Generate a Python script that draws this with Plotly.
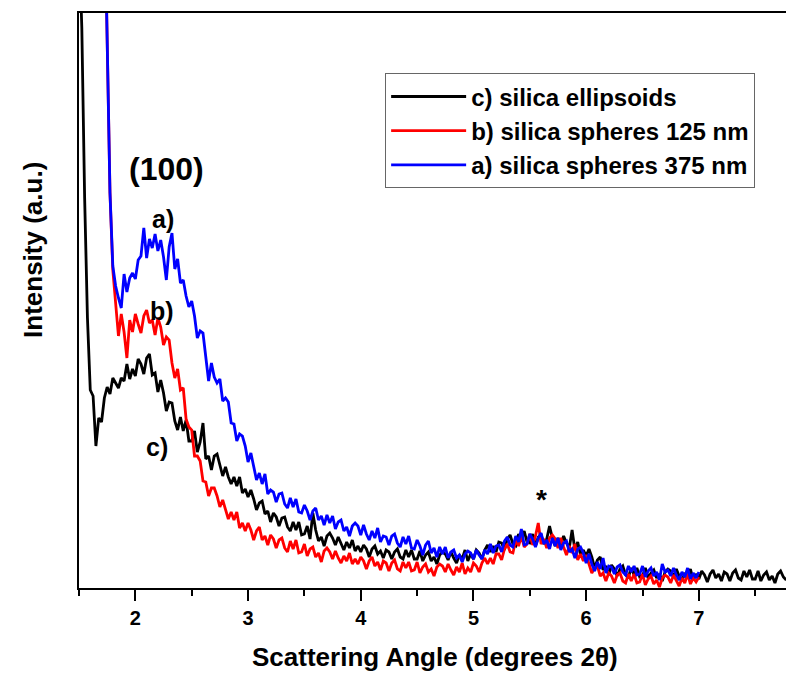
import plotly.graph_objects as go
import numpy as np

# ---------------- data (intensity in arbitrary units) ----------------
x_start_black = 1.5
x_start_ab = 1.725
x_step = 0.025

black_c = [
    650, 560, 390, 270, 198, 192, 142, 170, 166, 190,
    201, 194, 210, 205, 200, 210, 207, 224, 209, 219,
    212, 229, 224, 214, 230, 234, 213, 215, 196, 208,
    195, 177, 186, 185, 167, 158, 171, 157, 168, 147,
    147, 157, 136, 146, 165, 129, 132, 118, 132, 134,
    123, 112, 121, 111, 104, 111, 102, 111, 95, 99,
    91, 98, 89, 78, 85, 87, 74, 77, 66, 75,
    71, 62, 70, 71, 61, 57, 66, 58, 66, 53,
    54, 62, 49, 75, 58, 47, 51, 42, 52, 55,
    50, 43, 51, 44, 38, 46, 40, 48, 37, 42,
    36, 43, 39, 31, 39, 42, 34, 37, 30, 38,
    36, 29, 36, 39, 31, 29, 38, 31, 38, 29,
    29, 37, 27, 33, 36, 27, 31, 24, 33, 36,
    34, 28, 36, 30, 25, 33, 29, 38, 27, 34,
    29, 38, 35, 29, 38, 43, 36, 42, 36, 46,
    45, 38, 49, 53, 44, 42, 54, 48, 57, 46,
    45, 54, 42, 51, 53, 44, 49, 62, 50, 42,
    50, 43, 52, 45, 40, 58, 38, 46, 33, 38,
    32, 39, 31, 20, 28, 31, 18, 22, 13, 23,
    19, 12, 19, 22, 13, 11, 20, 13, 20, 11,
    12, 20, 10, 15, 18, 10, 14, 7, 16, 19,
    17, 11, 19, 12, 7, 15, 10, 19, 8, 14,
    9, 17, 13, 6, 14, 18, 10, 14, 7, 16,
    14, 7, 15, 18, 10, 8, 17, 11, 18, 9,
    9, 17, 7, 13, 16, 8, 12, 5, 14, 17,
    11, 8,
]

red_b = [
    700, 530, 395, 318, 285, 252, 274, 256, 230, 268,
    256, 274, 264, 255, 272, 278, 265, 268, 253, 270,
    261, 243, 251, 248, 225, 210, 219, 198, 200, 169,
    161, 158, 132, 132, 127, 107, 106, 92, 100, 100,
    92, 81, 88, 77, 69, 76, 68, 76, 60, 65,
    57, 65, 58, 48, 57, 61, 48, 52, 43, 53,
    49, 40, 48, 50, 40, 36, 47, 39, 48, 35,
    36, 44, 32, 39, 41, 31, 35, 26, 37, 40,
    36, 29, 37, 30, 25, 32, 27, 35, 24, 29,
    24, 31, 27, 19, 27, 31, 22, 26, 18, 27,
    25, 17, 25, 28, 19, 17, 26, 20, 26, 17,
    18, 26, 15, 21, 24, 16, 19, 12, 21, 24,
    22, 16, 24, 18, 13, 21, 16, 25, 14, 20,
    16, 25, 22, 16, 25, 30, 24, 30, 24, 34,
    34, 28, 39, 44, 36, 35, 48, 42, 52, 41,
    44, 54, 43, 52, 65, 44, 49, 40, 50, 53,
    49, 40, 50, 41, 33, 42, 35, 44, 28, 34,
    27, 33, 25, 15, 20, 22, 12, 15, 7, 15,
    12, 5, 13, 15, 7, 5, 14, 7, 14, 5,
    6, 14, 3, 9, 12, 4, 8, 1, 10, 13,
    11, 5, 13, 7, 2, 10, 5, 14, 4, 10,
    6, 11,
]

blue_a = [
    700, 530, 395, 322, 302, 290, 280, 314, 296, 310,
    315, 309, 328, 332, 360, 330, 349, 340, 354, 337,
    348, 331, 308, 341, 355, 319, 329, 305, 308, 292,
    281, 287, 272, 250, 257, 255, 231, 207, 225, 211,
    205, 209, 187, 190, 186, 165, 164, 147, 154, 152,
    142, 126, 135, 120, 108, 115, 104, 114, 94, 98,
    96, 86, 94, 95, 84, 80, 90, 81, 89, 76,
    75, 83, 77, 68, 77, 80, 68, 72, 63, 73,
    65, 72, 59, 66, 68, 57, 61, 52, 62, 65,
    62, 53, 63, 54, 48, 57, 50, 60, 46, 52,
    51, 43, 52, 54, 45, 41, 51, 44, 52, 40,
    39, 48, 42, 33, 43, 47, 35, 40, 31, 41,
    34, 41, 30, 36, 38, 30, 33, 26, 34, 37,
    35, 29, 38, 33, 29, 38, 34, 44, 35, 42,
    43, 36, 47, 51, 43, 41, 52, 46, 59, 43,
    44, 54, 49, 41, 50, 55, 44, 48, 39, 50,
    42, 50, 38, 45, 47, 36, 39, 30, 39, 41,
    35, 25, 34, 24, 17, 26, 19, 30, 15, 22,
    21, 14, 21, 23, 16, 13, 22, 16, 22, 13,
    14, 22, 11, 17, 20, 12, 16, 8, 24, 16,
    18, 12, 20, 13, 8, 16, 11, 20, 9, 15,
    10, 16,
]

x_black = np.round(x_start_black + x_step * np.arange(len(black_c)), 3)
x_ab = np.round(x_start_ab + x_step * np.arange(len(blue_a)), 3)

series_names = ["c) silica ellipsoids", "b) silica spheres 125 nm", "a) silica spheres 375 nm"]
series_colors = ["#000000", "#FF0000", "#0000FF"]

x_ticks = [2, 3, 4, 5, 6, 7]
x_range = [1.5, 7.773]
y_range = [0, 575]

labels = ["(100)", "a)", "b)", "c)", "*"]
label_x = [2.28, 2.245, 2.236, 2.19, 5.608]
label_y = [419, 369, 277, 141, 89]
label_size = [32, 25, 25, 25, 28]

FONT = "Arial, 'Liberation Sans', Helvetica, sans-serif"

fig = go.Figure()
for xs, ys, name, col in [
    (x_black, black_c, series_names[0], series_colors[0]),
    (x_ab, red_b, series_names[1], series_colors[1]),
    (x_ab, blue_a, series_names[2], series_colors[2]),
]:
    fig.add_trace(go.Scatter(x=xs, y=ys, mode="lines", name=name,
                             line=dict(color=col, width=2.8)))

for t, lx, ly, sz in zip(labels, label_x, label_y, label_size):
    fig.add_annotation(x=lx, y=ly, xref="x", yref="y", text=t, showarrow=False,
                       font=dict(family=FONT, size=sz, color="black", weight="bold"))

fig.add_annotation(x=-0.065, y=0.588, xref="paper", yref="paper",
                   xanchor="center", yanchor="middle",
                   text="Intensity (a.u.)", textangle=-90, showarrow=False,
                   font=dict(family=FONT, size=26, color="black", weight="bold"))
fig.add_annotation(x=0.5035, y=-0.12, xref="paper", yref="paper",
                   xanchor="center", yanchor="middle",
                   text="Scattering Angle (degrees 2θ)", showarrow=False,
                   font=dict(family=FONT, size=26, color="black", weight="bold"))

fig.update_layout(
    width=786, height=675,
    margin=dict(l=79, r=0, t=13, b=87, pad=0),
    paper_bgcolor="white", plot_bgcolor="white",
    font=dict(family=FONT, color="black", weight="bold"),
    showlegend=True,
    legend=dict(x=0.433, y=0.895, xanchor="left", yanchor="top",
                bgcolor="white", bordercolor="#666666", borderwidth=1,
                font=dict(family=FONT, size=24, color="black", weight="bold"),
                itemwidth=75, tracegroupgap=0),
    xaxis=dict(range=x_range, tickvals=x_ticks, showgrid=False, zeroline=False,
               showline=True, linecolor="black", linewidth=2, mirror=True,
               ticks="outside", ticklen=11, tickwidth=2, tickcolor="black",
               minor=dict(dtick=0.5, tick0=0, ticks="outside", ticklen=6, tickwidth=2,
                          tickcolor="black", showgrid=False),
               tickfont=dict(family=FONT, size=20, color="black", weight="bold")),
    yaxis=dict(range=y_range, showgrid=False, zeroline=False, showticklabels=False,
               ticks="", showline=True, linecolor="black", linewidth=2, mirror=False),
)

fig.write_html("out.html")
